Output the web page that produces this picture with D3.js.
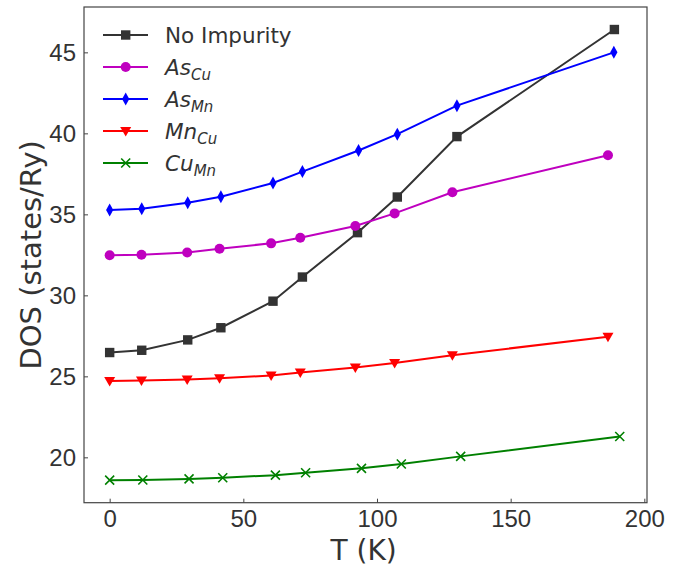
<!DOCTYPE html>
<html>
<head>
<meta charset="utf-8">
<script src="https://cdn.jsdelivr.net/npm/d3@7"></script>
<style>
  body { margin: 0; background: #fff; }
  svg { font-family: "DejaVu Sans", sans-serif; }
</style>
</head>
<body>
<svg id="chart"></svg>
<script>
// Data (T in K, DOS in states/Ry)
const noImpT = [0, 12, 29.2, 41.6, 61.1, 72.1, 92.7, 107.6, 129.9, 188.8];
const noImpDos = [26.47, 26.61, 27.25, 28.0, 29.64, 31.13, 33.87, 36.07, 39.8, 46.41];
const asCuT = [0, 11.9, 29, 41.1, 60.4, 71.3, 91.9, 106.6, 128.2, 186.4];
const asCuDos = [32.47, 32.51, 32.65, 32.88, 33.21, 33.56, 34.28, 35.06, 36.36, 38.65];
const asMnT = [0, 12, 29.2, 41.6, 61.1, 72.1, 93.1, 107.6, 129.9, 188.6];
const asMnDos = [35.27, 35.35, 35.72, 36.09, 36.94, 37.64, 38.94, 39.95, 41.71, 45.0];
const mnCuT = [0, 11.9, 29, 41.1, 60.4, 71.3, 91.9, 106.6, 128.2, 186.4];
const mnCuDos = [24.72, 24.74, 24.8, 24.88, 25.05, 25.23, 25.55, 25.83, 26.3, 27.45];
const cuMnT = [0, 12.4, 29.7, 42.3, 62.0, 73.3, 94.2, 109.1, 131.3, 190.8];
const cuMnDos = [18.59, 18.6, 18.67, 18.74, 18.9, 19.05, 19.32, 19.59, 20.06, 21.29];

const xTicks = [0, 50, 100, 150, 200];
const yTicks = [20, 25, 30, 35, 40, 45];

const series = [
  { name: "No Impurity", base: "No Impurity", sub: null, t: noImpT, v: noImpDos, color: "#333333", marker: "square" },
  { name: "AsCu", base: "As", sub: "Cu", t: asCuT, v: asCuDos, color: "#bf00bf", marker: "circle" },
  { name: "AsMn", base: "As", sub: "Mn", t: asMnT, v: asMnDos, color: "#0000ff", marker: "diamond" },
  { name: "MnCu", base: "Mn", sub: "Cu", t: mnCuT, v: mnCuDos, color: "#ff0000", marker: "triangle" },
  { name: "CuMn", base: "Cu", sub: "Mn", t: cuMnT, v: cuMnDos, color: "#008000", marker: "cross" },
];

const width = 687, height = 567;
const margin = { top: 7, right: 40, bottom: 65, left: 84 };

const svg = d3.select("#chart").attr("width", width).attr("height", height);

const x = d3.scaleLinear().domain([-9.6, 201]).range([margin.left, width - margin.right]);
const y = d3.scaleLinear().domain([17.2, 47.8]).range([height - margin.bottom + 0.7, margin.top]);

// Axes (ticks point inward, matplotlib style)
const xAxis = svg.append("g")
  .attr("transform", `translate(0,${y.range()[0]})`)
  .call(d3.axisBottom(x).tickValues(xTicks).tickSize(-4).tickPadding(7).tickFormat(d3.format("d")));
const yAxis = svg.append("g")
  .attr("transform", `translate(${margin.left},0)`)
  .call(d3.axisLeft(y).tickValues(yTicks).tickSize(-4).tickPadding(8).tickFormat(d3.format("d")));

[xAxis, yAxis].forEach((a) => {
  a.select(".domain").remove();
  a.selectAll(".tick line").attr("stroke", "#444").attr("stroke-width", 1);
  a.selectAll(".tick text").attr("fill", "#333").style("font-size", "24px");
});

// Frame
svg.append("rect")
  .attr("x", x.range()[0]).attr("y", y.range()[1])
  .attr("width", x.range()[1] - x.range()[0])
  .attr("height", y.range()[0] - y.range()[1])
  .attr("fill", "none").attr("stroke", "#444").attr("stroke-width", 1.2);

// Axis titles
svg.append("text")
  .attr("x", x(95)).attr("y", 560)
  .attr("text-anchor", "middle").attr("fill", "#333")
  .style("font-size", "28px").text("T (K)");
svg.append("text")
  .attr("transform", `translate(41,${y(32.5)}) rotate(-90)`)
  .attr("text-anchor", "middle").attr("fill", "#333")
  .style("font-size", "29px").text("DOS (states/Ry)");

function drawMarker(g, type, color) {
  if (type === "square") {
    g.append("rect").attr("x", -4.7).attr("y", -4.7).attr("width", 9.4).attr("height", 9.4).attr("fill", color);
  } else if (type === "circle") {
    g.append("circle").attr("r", 5).attr("fill", color);
  } else if (type === "diamond") {
    g.append("path").attr("d", "M0,-6.5L3.6,0L0,6.5L-3.6,0Z").attr("fill", color);
  } else if (type === "triangle") {
    g.append("path").attr("d", "M-5.5,-4L5.5,-4L0,5.5Z").attr("fill", color);
  } else if (type === "cross") {
    g.append("path").attr("d", "M-4.5,-4.5L4.5,4.5M-4.5,4.5L4.5,-4.5")
      .attr("stroke", color).attr("stroke-width", 1.6).attr("fill", "none");
  }
}

const line = d3.line().x((d) => x(d[0])).y((d) => y(d[1]));

series.forEach((s) => {
  const pts = s.t.map((t, i) => [t, s.v[i]]);
  svg.append("path")
    .datum(pts)
    .attr("d", line)
    .attr("fill", "none")
    .attr("stroke", s.color)
    .attr("stroke-width", 2);
  pts.forEach((p) => {
    const g = svg.append("g").attr("transform", `translate(${x(p[0])},${y(p[1])})`);
    drawMarker(g, s.marker, s.color);
  });
});

// Legend
const legend = svg.append("g");
series.forEach((s, i) => {
  const cy = 35 + i * 32;
  const row = legend.append("g").attr("transform", `translate(0,${cy})`);
  row.append("line").attr("x1", 103).attr("x2", 148).attr("y1", 0).attr("y2", 0)
    .attr("stroke", s.color).attr("stroke-width", 2);
  const m = row.append("g").attr("transform", "translate(125.7,0)");
  drawMarker(m, s.marker, s.color);
  const txt = row.append("text").attr("x", 165).attr("y", 8).attr("fill", "#333")
    .style("font-size", "21.5px");
  if (s.sub) {
    txt.append("tspan").style("font-style", "italic").text(s.base);
    txt.append("tspan").style("font-style", "italic").style("font-size", "15px")
      .attr("dy", 5).text(s.sub);
  } else {
    txt.text(s.base);
  }
});
</script>
</body>
</html>
